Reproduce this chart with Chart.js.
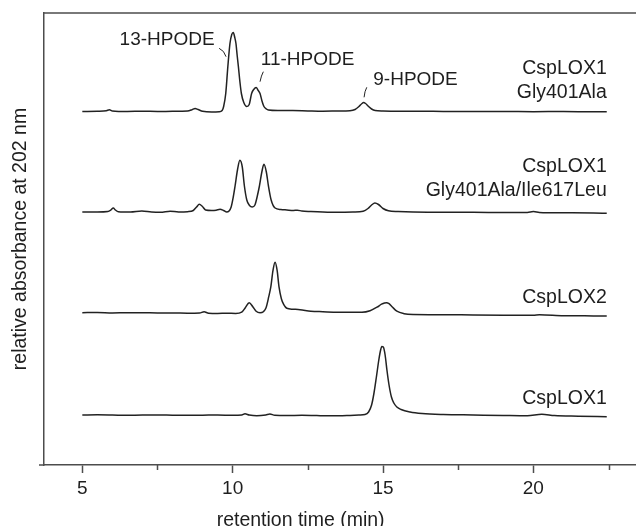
<!DOCTYPE html>
<html>
<head>
<meta charset="utf-8">
<script src="https://cdn.jsdelivr.net/npm/chart.js@4.4.1/dist/chart.umd.min.js"></script>
<style>
html,body{margin:0;padding:0;background:#ffffff;}
#wrap{width:636px;height:526px;position:relative;}
</style>
</head>
<body>
<div id="wrap"><canvas id="c" width="636" height="526"></canvas></div>
<script>
// ---------------- data ----------------
const traceNames = ["CspLOX1 Gly401Ala", "CspLOX1 Gly401Ala/Ile617Leu", "CspLOX2", "CspLOX1"];
const traceLabels = [["CspLOX1", "Gly401Ala"], ["CspLOX1", "Gly401Ala/Ile617Leu"], ["CspLOX2"], ["CspLOX1"]];
const peakNames = ["13-HPODE", "11-HPODE", "9-HPODE"];
const xTickValues = [5, 10, 15, 20];
const xMinorTickValues = [7.5, 12.5, 17.5, 22.5];
const xTitle = "retention time (min)";
const yTitle = "relative absorbance at 202 nm";

// retention time (min) and absorbance (relative units) for each chromatogram
const timeG401A = [5.0, 5.5, 5.8, 5.9, 6.0, 6.5, 7.0, 7.5, 8.0, 8.5, 8.65, 8.75, 8.85, 9.0, 9.3, 9.55, 9.65, 9.7, 9.77, 9.84, 9.91, 9.97, 10.02, 10.07, 10.11, 10.15, 10.19, 10.24, 10.29, 10.37, 10.47, 10.55, 10.63, 10.7, 10.78, 10.85, 10.91, 10.98, 11.04, 11.12, 11.19, 11.5, 12.0, 12.5, 13.0, 13.5, 13.9, 14.07, 14.2, 14.3, 14.35, 14.42, 14.52, 14.62, 14.74, 15.0, 15.5, 16.0, 17.0, 18.0, 19.0, 20.0, 21.0, 22.0, 22.44];
const absG401A  = [0, 0.3, 0.8, 1.8, 0.5, 0, 0.3, 0, 0.2, 0.5, 1.8, 3, 2, 0.3, -0.5, -0.3, 1, 5, 18, 45, 68, 77, 79, 74, 68, 56, 45, 30, 18, 9, 5, 7, 18, 22, 24, 21, 18, 10, 5, 2.5, 1.5, 1, 1, 0.6, 0.3, 0.5, 0.8, 2, 5, 8, 9, 8, 5, 2.5, 1, 0.5, 0.3, 0.2, 0.1, 0, 0, -0.2, 0, -0.3, -0.3];

const timeG401AI617L = [5.0, 5.5, 5.85, 5.95, 6.03, 6.1, 6.2, 6.6, 6.98, 7.3, 7.6, 7.92, 8.2, 8.5, 8.69, 8.8, 8.89, 8.98, 9.1, 9.3, 9.45, 9.58, 9.7, 9.8, 9.88, 9.95, 10.02, 10.08, 10.16, 10.24, 10.32, 10.39, 10.47, 10.56, 10.65, 10.74, 10.82, 10.89, 10.97, 11.04, 11.12, 11.19, 11.28, 11.41, 11.6, 11.8, 12.02, 12.15, 12.3, 12.6, 13.0, 13.5, 14.0, 14.34, 14.5, 14.62, 14.73, 14.85, 15.0, 15.18, 15.5, 16.0, 17.0, 18.0, 19.0, 19.8, 20.0, 20.2, 21.0, 22.0, 22.44];
const absG401AI617L  = [0, 0, 0.5, 2, 4, 2, 0.3, 0, 1, 0, -0.3, 0.8, 0, 0.3, 1.5, 5, 7.7, 6, 2, 1.5, 1.8, 2.7, 1.5, 0, 1, 5, 15, 26, 42, 51.7, 45, 26, 12, 6.5, 5, 7, 16, 26, 40, 47.7, 40, 26, 12, 4, 2.5, 2, 1.5, 1.8, 1, 0.5, 0, -0.3, 0, 0.8, 3.5, 7, 9, 7.5, 3.5, 1.2, 0.5, 0, -0.3, -0.3, -0.5, -0.4, 0.5, -0.4, -0.8, -1, -1.2];

const timeLOX2 = [5.0, 5.5, 6.0, 6.5, 7.0, 7.5, 8.0, 8.5, 8.9, 9.05, 9.2, 9.5, 9.8, 10.1, 10.3, 10.42, 10.55, 10.67, 10.78, 10.91, 11.02, 11.11, 11.2, 11.27, 11.34, 11.41, 11.48, 11.54, 11.62, 11.7, 11.8, 12.0, 12.24, 12.6, 13.0, 13.5, 14.0, 14.3, 14.57, 14.8, 14.95, 15.05, 15.12, 15.2, 15.3, 15.46, 15.7, 16.0, 17.0, 18.0, 19.0, 20.0, 20.2, 21.0, 22.0, 22.44];
const absLOX2  = [0, 0.2, -0.2, 0, 0, -0.3, -0.2, -0.5, -0.3, 1, -0.5, -0.7, -0.5, -0.8, 0.5, 5, 10, 6, 1.5, 0, 1, 5, 16, 26, 42, 50.4, 42, 26, 14, 8, 4.4, 3.5, 3, 1.5, 1, 0.5, 0.5, 0.5, 2, 5.5, 8.5, 9.8, 10, 9, 6, 1.5, -1, -1.8, -2, -2.3, -2.5, -2.6, -2, -3, -3.2, -3.3];

const timeLOX1 = [5.0, 5.5, 6.0, 6.5, 7.0, 7.5, 8.0, 8.5, 9.0, 9.5, 10.0, 10.3, 10.41, 10.55, 10.8, 11.1, 11.24, 11.4, 11.8, 12.3, 12.8, 13.3, 13.8, 14.2, 14.4, 14.52, 14.62, 14.7, 14.78, 14.86, 14.92, 14.96, 15.01, 15.07, 15.13, 15.2, 15.28, 15.36, 15.46, 15.6, 15.9, 16.3, 17.0, 18.0, 19.0, 19.8, 20.28, 20.7, 21.5, 22.44];
const absLOX1  = [0, 0.2, 0, -0.3, 0, 0, -0.2, -0.3, -0.2, 0, -0.3, 0, 1.2, 0, -0.8, 0, 1, -0.3, -0.5, -0.3, -0.6, -0.8, -0.5, 0, 0.5, 3, 10, 22, 38, 55, 65, 68.5, 68, 60, 45, 30, 18, 12, 8, 5.5, 3, 1.5, 0.5, 0, -0.5, -0.8, 0.8, -0.6, -1.2, -1.7];

const traceTimes = [timeG401A, timeG401AI617L, timeLOX2, timeLOX1];
const traceAbs = [absG401A, absG401AI617L, absLOX2, absLOX1];
// vertical stacking offset of each chromatogram (relative units)
const traceOffsets = [353.5, 253, 152.3, 50];

// ---------------- layout / style (kept apart from the data) ----------------
const FONT = '"Liberation Sans", Arial, Helvetica, sans-serif';
const LINE_COLOR = '#222222';
const AXIS_COLOR = '#4d4d4d';
const TEXT_COLOR = '#1e1e1e';

// annotation anchor points in data coordinates
const peakLabelPos = [[7.82, 425.3], [12.49, 405], [16.08, 385]];
const peakLeaders = [
  [[9.55, 416.7], [9.72, 414.5], [9.78, 408.3]],
  [[11.02, 393.3], [10.95, 389.5], [10.91, 383.3]],
  [[14.46, 377.7], [14.39, 374], [14.37, 367.7]]
];
const traceLabelX = 22.44;
const traceLabelY = [[396.7, 372], [298, 274.7], [167.2], [66.3]];
const xTitlePos = 12.26;

const datasets = traceNames.map((name, i) => ({
  label: name,
  data: traceTimes[i].map((t, k) => ({x: t, y: traceOffsets[i] + traceAbs[i][k]})),
  borderColor: LINE_COLOR,
  borderWidth: 1.5,
  pointRadius: 0,
  fill: false,
  cubicInterpolationMode: 'monotone'
}));

const overlay = {
  id: 'overlay',
  afterDraw(chart) {
    const {ctx, chartArea: a, scales: {x, y}} = chart;
    ctx.save();
    ctx.strokeStyle = AXIS_COLOR;
    ctx.lineWidth = 1.5;
    ctx.beginPath();
    ctx.moveTo(a.left - 0.75, a.top); ctx.lineTo(a.right, a.top);
    ctx.moveTo(a.left - 5, a.bottom); ctx.lineTo(a.left, a.bottom);
    ctx.stroke();
    ctx.beginPath();
    xMinorTickValues.forEach(v => {
      const px = Math.round(x.getPixelForValue(v)) + 0.5;
      ctx.moveTo(px, a.bottom); ctx.lineTo(px, a.bottom + 5);
    });
    ctx.stroke();

    // leader lines
    ctx.strokeStyle = LINE_COLOR;
    ctx.lineWidth = 1;
    peakLeaders.forEach(l => {
      ctx.beginPath();
      ctx.moveTo(x.getPixelForValue(l[0][0]), y.getPixelForValue(l[0][1]));
      ctx.quadraticCurveTo(x.getPixelForValue(l[1][0]), y.getPixelForValue(l[1][1]),
                           x.getPixelForValue(l[2][0]), y.getPixelForValue(l[2][1]));
      ctx.stroke();
    });

    ctx.fillStyle = TEXT_COLOR;
    ctx.textBaseline = 'middle';
    ctx.font = '19px ' + FONT;
    ctx.textAlign = 'center';
    peakNames.forEach((n, i) => {
      ctx.fillText(n, x.getPixelForValue(peakLabelPos[i][0]), y.getPixelForValue(peakLabelPos[i][1]));
    });
    ctx.font = '19.5px ' + FONT;
    ctx.textAlign = 'right';
    traceLabels.forEach((lines, i) => {
      lines.forEach((s, j) => {
        ctx.fillText(s, x.getPixelForValue(traceLabelX), y.getPixelForValue(traceLabelY[i][j]));
      });
    });
    // x axis title
    ctx.font = '19.5px ' + FONT;
    ctx.textAlign = 'center';
    ctx.textBaseline = 'alphabetic';
    ctx.fillText(xTitle, x.getPixelForValue(xTitlePos), chart.height - 0.5);
    ctx.restore();
  }
};

new Chart(document.getElementById('c'), {
  type: 'line',
  data: {datasets},
  options: {
    responsive: false,
    animation: false,
    devicePixelRatio: 1,
    layout: {padding: {top: 13, right: 0, left: 0, bottom: 0}},
    plugins: {legend: {display: false}, tooltip: {enabled: false}, title: {display: false}},
    scales: {
      x: {
        type: 'linear',
        min: 3.726,
        max: 23.413,
        afterBuildTicks: s => { s.ticks = xTickValues.map(v => ({value: v})); },
        afterFit: s => { s.height = 61; },
        ticks: {
          color: TEXT_COLOR,
          font: {family: FONT, size: 19},
          padding: 4,
          maxRotation: 0,
          autoSkip: false,
          callback: v => String(v)
        },
        grid: {display: true, drawOnChartArea: false, drawTicks: true, tickLength: 8, tickColor: AXIS_COLOR, tickWidth: 1.5},
        border: {display: true, color: AXIS_COLOR, width: 1.5},
        title: {display: false}
      },
      y: {
        type: 'linear',
        min: 0,
        max: 452,
        afterFit: s => { s.width = 44; },
        ticks: {display: false},
        grid: {display: false, drawTicks: false},
        border: {display: true, color: AXIS_COLOR, width: 1.5},
        title: {
          display: true,
          text: yTitle,
          color: TEXT_COLOR,
          font: {family: FONT, size: 19.5},
          padding: {top: 9, bottom: 0}
        }
      }
    }
  },
  plugins: [overlay]
});
</script>
</body>
</html>
